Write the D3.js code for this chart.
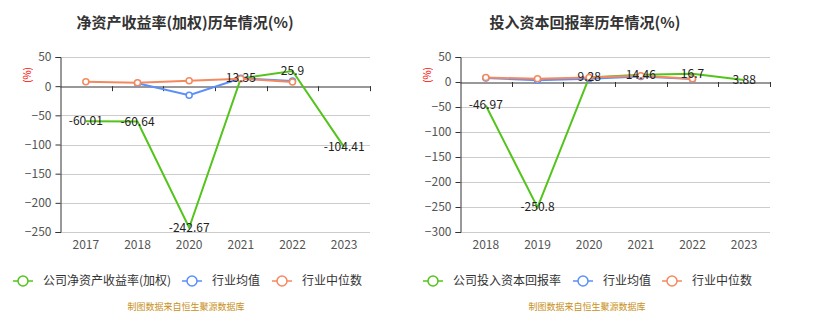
<!DOCTYPE html>
<html>
<head>
<meta charset="utf-8">
<script src="https://cdn.jsdelivr.net/npm/d3@7"></script>
<style>
  body { margin: 0; background: #fff; }
  svg text { font-family: "Noto Sans CJK SC", "Noto Sans", sans-serif; }
</style>
</head>
<body>
<div id="chart"></div>
<script>
// Left chart: ROE (weighted)
const roeYears = ['2017', '2018', '2020', '2021', '2022', '2023'];
const roeCompany = [-60.01, -60.64, -242.67, 13.35, 25.9, -104.41];
const roeIndustryMean = [null, 5, -15.5, 13.5, 8.8, null];
const roeIndustryMedian = [7.4, 5.7, 9.1, 12.6, 7.2, null];
const roeTicks = [50, 0, -50, -100, -150, -200, -250];

// Right chart: ROIC
const roicYears = ['2018', '2019', '2020', '2021', '2022', '2023'];
const roicCompany = [-46.97, -250.8, 9.28, 14.46, 16.7, 3.88];
const roicIndustryMean = [8.2, 3.6, 6.6, 10.8, 6.2, null];
const roicIndustryMedian = [8.8, 6.4, 9.2, 12.5, 6.3, null];
const roicTicks = [50, 0, -50, -100, -150, -200, -250, -300];

const GREEN = '#52c41a', BLUE = '#5b8ff9', ORANGE = '#f4895f';

const svg = d3.select('#chart').append('svg')
  .attr('width', 815)
  .attr('height', 330);

function drawChart(opt) {
  const g = svg.append('g');
  const x = d3.scaleBand().domain(opt.years).range([opt.left, opt.right]);
  const y = d3.scaleLinear().domain([opt.ticks[opt.ticks.length - 1], opt.ticks[0]])
    .range([opt.bottom, opt.top]);

  // title
  g.append('text')
    .attr('x', opt.titleX).attr('y', 28)
    .attr('text-anchor', 'middle')
    .attr('font-size', 15).attr('font-weight', 'bold')
    .attr('fill', '#333')
    .text(opt.title);

  // unit label
  g.append('text')
    .attr('transform', `translate(${opt.left - 29},${y(opt.ticks[0]) + 18}) rotate(-90)`)
    .attr('text-anchor', 'middle')
    .attr('font-size', 10).attr('fill', 'red')
    .text('(%)');

  // grid
  g.append('g').selectAll('line')
    .data(opt.ticks.filter(t => t !== 0))
    .join('line')
      .attr('x1', opt.left).attr('x2', opt.right)
      .attr('y1', d => Math.round(y(d)) + 0.5).attr('y2', d => Math.round(y(d)) + 0.5)
      .attr('stroke', '#ccc');

  // y axis
  const yAxis = g.append('g')
    .attr('transform', `translate(${opt.left + 0.5},0)`)
    .call(d3.axisLeft(y).tickValues(opt.ticks).tickSize(5).tickPadding(4));
  yAxis.select('.domain').attr('stroke', '#333');
  yAxis.selectAll('.tick line').attr('stroke', '#333');
  yAxis.selectAll('.tick text').attr('font-size', 12).attr('fill', '#555')
    .attr('font-family', '"Noto Sans CJK SC", sans-serif');

  // x axis on zero line
  const xAxis = g.append('g')
    .attr('transform', `translate(0,${Math.round(y(0)) + 0.5})`)
    .call(d3.axisBottom(x).tickSize(0));
  xAxis.select('.domain').attr('stroke', '#333');
  xAxis.selectAll('.tick text').remove();
  g.append('g').selectAll('line')
    .data(opt.years.slice(1).concat(['__end']))
    .join('line')
      .attr('x1', d => Math.round(d === '__end' ? opt.right : x(d)) + 0.5)
      .attr('x2', d => Math.round(d === '__end' ? opt.right : x(d)) + 0.5)
      .attr('y1', y(0)).attr('y2', y(0) + 5)
      .attr('stroke', '#333');

  // x labels at bottom
  g.append('g').selectAll('text')
    .data(opt.years)
    .join('text')
      .attr('x', d => x(d) + x.bandwidth() / 2)
      .attr('y', opt.bottom + 17)
      .attr('text-anchor', 'middle')
      .attr('font-size', 12).attr('fill', '#555')
      .text(d => d);

  const cx = i => x(opt.years[i]) + x.bandwidth() / 2;
  const line = d3.line()
    .defined(d => d != null)
    .x((d, i) => cx(i))
    .y(d => y(d));

  const series = [
    { values: opt.company, color: GREEN, markers: false },
    { values: opt.mean, color: BLUE, markers: true },
    { values: opt.median, color: ORANGE, markers: true }
  ];
  series.forEach(s => {
    g.append('path')
      .datum(s.values)
      .attr('d', line)
      .attr('fill', 'none')
      .attr('stroke', s.color)
      .attr('stroke-width', 2);
    if (s.markers) {
      g.append('g').selectAll('circle')
        .data(s.values.map((v, i) => ({ v, i })).filter(d => d.v != null))
        .join('circle')
          .attr('cx', d => cx(d.i)).attr('cy', d => y(d.v))
          .attr('r', 3)
          .attr('fill', '#fff')
          .attr('stroke', s.color)
          .attr('stroke-width', 1.5);
    }
  });

  // data labels for company series
  g.append('g').selectAll('text')
    .data(opt.company)
    .join('text')
      .attr('x', (d, i) => cx(i))
      .attr('y', d => y(d) + 4)
      .attr('text-anchor', 'middle')
      .attr('font-size', 12).attr('fill', '#222')
      .text(d => d);

  // legend
  const legend = g.append('g');
  opt.legend.forEach(item => {
    const lg = legend.append('g').attr('transform', `translate(${item.x},281)`);
    lg.append('line').attr('x1', 0).attr('x2', 20).attr('y1', 0).attr('y2', 0)
      .attr('stroke', item.color).attr('stroke-width', 1.5);
    lg.append('circle').attr('cx', 10).attr('cy', 0).attr('r', 5)
      .attr('fill', '#fff').attr('stroke', item.color).attr('stroke-width', 1.5);
    lg.append('text').attr('x', 30).attr('y', 4)
      .attr('font-size', 12).attr('fill', '#333')
      .text(item.label);
  });

  // source note
  g.append('text')
    .attr('x', opt.footX).attr('y', 310)
    .attr('text-anchor', 'middle')
    .attr('font-size', 9).attr('fill', '#c8901a')
    .text('制图数据来自恒生聚源数据库');
}

drawChart({
  title: '净资产收益率(加权)历年情况(%)',
  titleX: 185, footX: 186,
  years: roeYears, ticks: roeTicks,
  company: roeCompany, mean: roeIndustryMean, median: roeIndustryMedian,
  left: 60, right: 370, top: 57, bottom: 232,
  legend: [
    { x: 13, color: GREEN, label: '公司净资产收益率(加权)' },
    { x: 182, color: BLUE, label: '行业均值' },
    { x: 272, color: ORANGE, label: '行业中位数' }
  ]
});

drawChart({
  title: '投入资本回报率历年情况(%)',
  titleX: 585, footX: 587,
  years: roicYears, ticks: roicTicks,
  company: roicCompany, mean: roicIndustryMean, median: roicIndustryMedian,
  left: 460, right: 770, top: 57, bottom: 232,
  legend: [
    { x: 423, color: GREEN, label: '公司投入资本回报率' },
    { x: 573, color: BLUE, label: '行业均值' },
    { x: 662, color: ORANGE, label: '行业中位数' }
  ]
});
</script>
</body>
</html>
